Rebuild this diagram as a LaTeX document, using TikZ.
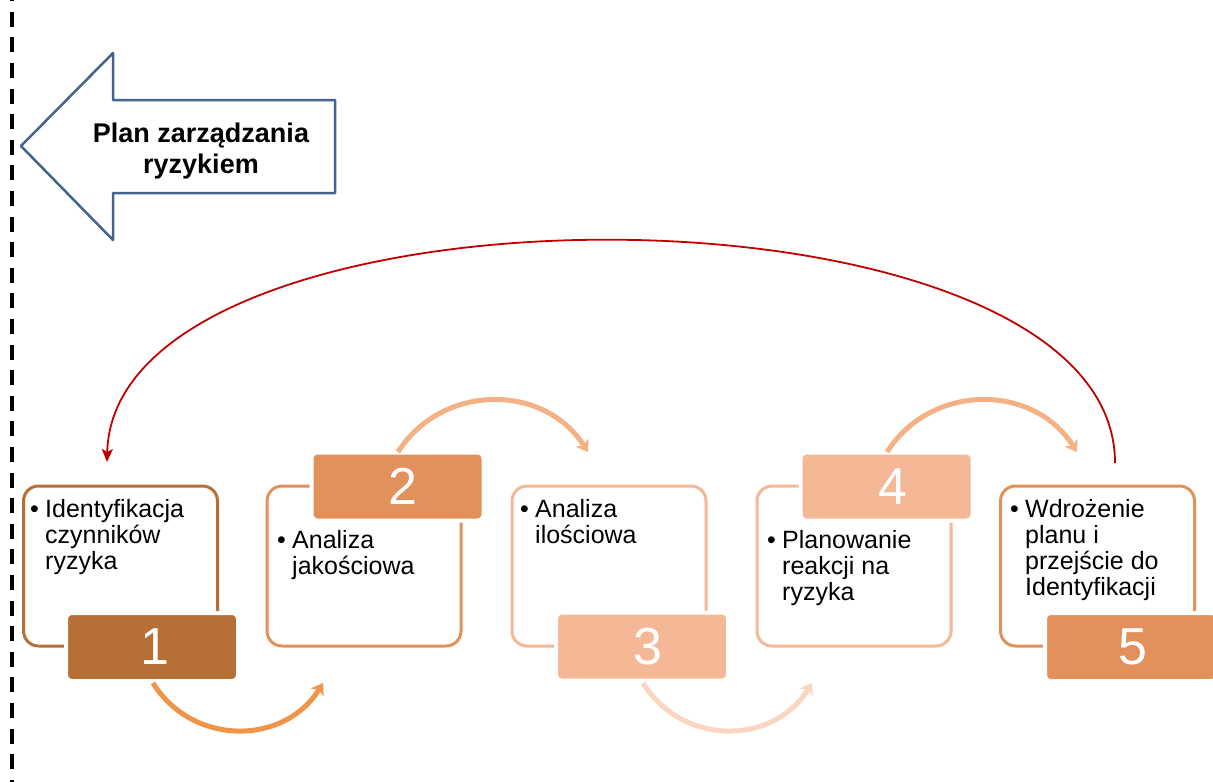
\documentclass[tikz,border=0pt]{standalone}
\usepackage{fontspec}
\setmainfont{Liberation Sans}
\usetikzlibrary{arrows.meta}
\definecolor{cone}{RGB}{182,112,54}
\definecolor{ctwo}{RGB}{226,145,90}
\definecolor{cthree}{RGB}{245,184,150}
\definecolor{aonetwo}{RGB}{239,148,72}
\definecolor{atwothree}{RGB}{244,177,131}
\definecolor{athreefour}{RGB}{250,213,192}
\definecolor{planblue}{RGB}{65,100,145}
\definecolor{loopred}{RGB}{192,0,0}
\newcommand{\stagetext}[1]{\parbox[t]{190pt}{\noindent\hangindent=15pt\hangafter=1\makebox[15pt][l]{\textbullet}#1}}
\begin{document}
\begin{tikzpicture}[x=1pt,y=-1pt,
  stage/.style={draw=#1, line width=3pt, rounded corners=15pt, minimum width=194pt, minimum height=160pt, inner sep=0pt},
  numbox/.style={fill=#1, draw=white, line width=4pt, rounded corners=6pt, minimum width=172pt, minimum height=68pt, inner sep=0pt, text=white, font=\fontsize{52}{52}\selectfont},
  stxt/.style={anchor=base west, inner sep=0pt, font=\fontsize{25}{26}\selectfont},
  flow/.style={line width=5pt, draw=#1, -{Stealth[length=11pt,width=15pt,inset=3pt]}},
]
\useasboundingbox[fill=white] (0,0) rectangle (1213,782);

% dashed boundary line
\draw[line width=3.5pt, dash pattern=on 15pt off 10.6pt, dash phase=13.8pt] (12,0) -- (12,782);

% big arrow "Plan zarzadzania ryzykiem"
\draw[planblue, line width=2.5pt, line join=round]
  (21,146) -- (113,53) -- (113,100) -- (335,100) -- (335,193) -- (113,193) -- (113,240) -- cycle;
\node[align=center, font=\fontsize{27}{31}\selectfont\bfseries, inner sep=0pt] (plan) at (201,151) {Plan zarządzania\\ryzykiem};

% stage boxes
\node[stage=cone] (b1) at (120.5,566) {};
\node[stage=ctwo] (b2) at (364,566) {};
\node[stage=cthree] (b3) at (609,566) {};
\node[stage=cthree] (b4) at (854,566) {};
\node[stage=ctwo] (b5) at (1097.5,566) {};

% number boxes
\node[numbox=cone] (n1) at (152,647) {\hspace{6pt}1};
\node[numbox=ctwo] (n2) at (397.5,486.5) {\hspace{10pt}2};
\node[numbox=cthree] (n3) at (642,646.5) {\hspace{12pt}3};
\node[numbox=cthree] (n4) at (886.5,486.5) {\hspace{12pt}4};
\node[numbox=ctwo] (n5) at (1131,647) {\hspace{4pt}5};

% stage texts
\node[stxt] (t1) at (30,517) {\stagetext{Identyfikacja\\czynników\\ryzyka}};
\node[stxt] (t2) at (277,548) {\stagetext{Analiza\\jakościowa}};
\node[stxt] (t3) at (520,517) {\stagetext{Analiza\\ilościowa}};
\node[stxt] (t4) at (767,548) {\stagetext{Planowanie\\reakcji na\\ryzyka}};
\node[stxt] (t5) at (1010,517) {\stagetext{Wdrożenie\\planu i\\przejście do\\Identyfikacji}};

% connector end points
\coordinate (s12) at (153,683);
\coordinate (e12) at (323,683);
\coordinate (s23) at (398,452);
\coordinate (e23) at (588,452);
\coordinate (s34) at (643,683);
\coordinate (e34) at (812,683);
\coordinate (s45) at (887,452);
\coordinate (e45) at (1077,452);
\coordinate (sloop) at (1115,463);
\coordinate (eloop) at (107,462);

% curved arrows
\draw[flow=aonetwo] (s12) .. controls (192,746) and (284,746) .. (e12);
\draw[flow=atwothree] (s23) .. controls (442,383) and (544,383) .. (e23);
\draw[flow=athreefour] (s34) .. controls (682,746) and (773,746) .. (e34);
\draw[flow=atwothree] (s45) .. controls (931,383) and (1033,383) .. (e45);

% feedback loop
\draw[loopred, line width=1.8pt, -{Stealth[length=13pt,width=11pt,inset=3pt]}]
  (sloop) .. controls (1115,167) and (114,167) .. (eloop);
\end{tikzpicture}
\end{document}
